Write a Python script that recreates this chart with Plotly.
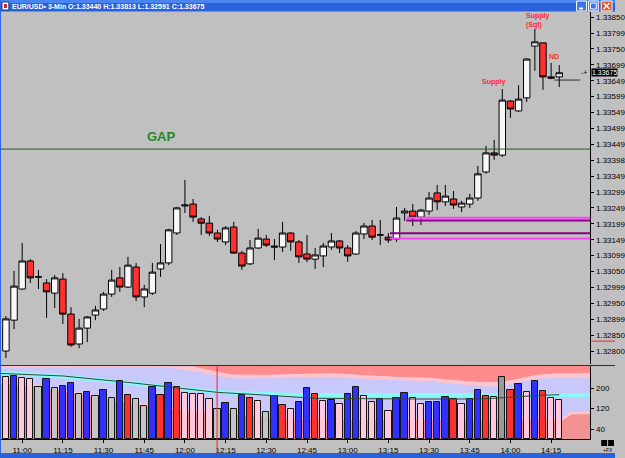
import plotly.graph_objects as go

W, H = 625, 458

# ---------------- data ----------------
bar_index = list(range(69))  # 3-min bars from 10:54 to 14:18

opens = [1.32800, 1.32897, 1.32995, 1.33083, 1.33033, 1.33014, 1.32982, 1.33026, 1.32916, 1.32822,
         1.32872, 1.32913, 1.32932, 1.32979, 1.33030, 1.33001, 1.33064, 1.32970, 1.32982, 1.33058,
         1.33077, 1.33171, 1.33256, 1.33262, 1.33215, 1.33202, 1.33171, 1.33143, 1.33190, 1.33108,
         1.33074, 1.33124, 1.33152, 1.33130, 1.33127, 1.33171, 1.33143, 1.33105, 1.33089, 1.33099,
         1.33127, 1.33146, 1.33124, 1.33105, 1.33168, 1.33193, 1.33165, 1.33158, 1.33152, 1.33234,
         1.33240, 1.33221, 1.33240, 1.33297, 1.33269, 1.33278, 1.33253, 1.33262, 1.33281, 1.33363,
         1.33423, 1.33416, 1.33586, 1.33555, 1.33596, 1.33759, 1.33769, 1.33662, 1.33662]
highs = [1.32910, 1.33052, 1.33140, 1.33089, 1.33055, 1.33026, 1.33039, 1.33045, 1.32938, 1.32901,
         1.32910, 1.32942, 1.32986, 1.33055, 1.33064, 1.33096, 1.33077, 1.33008, 1.33077, 1.33136,
         1.33184, 1.33253, 1.33338, 1.33278, 1.33221, 1.33225, 1.33181, 1.33193, 1.33206, 1.33115,
         1.33149, 1.33184, 1.33165, 1.33152, 1.33206, 1.33174, 1.33149, 1.33165, 1.33124, 1.33140,
         1.33171, 1.33149, 1.33133, 1.33177, 1.33203, 1.33212, 1.33212, 1.33171, 1.33253, 1.33250,
         1.33262, 1.33247, 1.33300, 1.33322, 1.33322, 1.33303, 1.33272, 1.33294, 1.33382, 1.33445,
         1.33464, 1.33624, 1.33589, 1.33636, 1.33721, 1.33813, 1.33769, 1.33706, 1.33699]
lows = [1.32778, 1.32869, 1.32992, 1.33014, 1.32995, 1.32904, 1.32935, 1.32885, 1.32813, 1.32809,
        1.32828, 1.32897, 1.32926, 1.32970, 1.32986, 1.32998, 1.32957, 1.32938, 1.32976, 1.33033,
        1.33070, 1.33165, 1.33234, 1.33206, 1.33165, 1.33162, 1.33143, 1.33133, 1.33105, 1.33055,
        1.33070, 1.33121, 1.33127, 1.33086, 1.33111, 1.33115, 1.33077, 1.33080, 1.33058, 1.33064,
        1.33118, 1.33108, 1.33080, 1.33102, 1.33152, 1.33149, 1.33133, 1.33140, 1.33143, 1.33209,
        1.33193, 1.33196, 1.33228, 1.33243, 1.33256, 1.33247, 1.33237, 1.33250, 1.33272, 1.33357,
        1.33401, 1.33410, 1.33533, 1.33552, 1.33583, 1.33681, 1.33621, 1.33655, 1.33630]
closes = [1.32901, 1.33004, 1.33083, 1.33030, 1.33033, 1.32986, 1.33030, 1.32916, 1.32819, 1.32872,
          1.32907, 1.32929, 1.32979, 1.33023, 1.33001, 1.33070, 1.32970, 1.32995, 1.33048, 1.33077,
          1.33181, 1.33250, 1.33259, 1.33221, 1.33202, 1.33171, 1.33152, 1.33187, 1.33108, 1.33067,
          1.33124, 1.33155, 1.33133, 1.33127, 1.33171, 1.33143, 1.33096, 1.33089, 1.33102, 1.33130,
          1.33146, 1.33124, 1.33099, 1.33171, 1.33193, 1.33158, 1.33165, 1.33149, 1.33218, 1.33240,
          1.33221, 1.33243, 1.33281, 1.33269, 1.33287, 1.33259, 1.33265, 1.33281, 1.33357, 1.33423,
          1.33416, 1.33589, 1.33561, 1.33592, 1.33718, 1.33772, 1.33662, 1.33658, 1.33675]

volumes = [242, 247, 238, 234, 205, 235, 200, 208, 218, 177,
           183, 168, 193, 162, 226, 173, 158, 130, 205, 173,
           218, 203, 179, 178, 177, 156, 117, 142, 118, 174,
           160, 148, 105, 170, 134, 118, 145, 199, 175, 148,
           155, 138, 175, 204, 168, 144, 157, 109, 160, 179,
           160, 139, 144, 147, 166, 157, 138, 156, 191, 168,
           164, 242, 193, 214, 186, 226, 190, 162, 152]
vol_class = ["P", "B", "P", "P", "G", "B", "G", "B", "B", "G",
             "B", "G", "B", "G", "B", "R", "G", "G", "B", "R",
             "B", "R", "P", "P", "P", "P", "G", "B", "G", "B",
             "R", "P", "G", "B", "R", "P", "B", "B", "R", "P",
             "B", "P", "B", "B", "P", "P", "B", "P", "B", "B",
             "P", "P", "B", "B", "B", "R", "P", "B", "B", "R",
             "P", "D", "R", "B", "P", "B", "R", "P", "P"]

price_tick_vals = [1.3280, 1.3285, 1.3290, 1.3295, 1.3300, 1.3305, 1.3310, 1.3315, 1.3320, 1.3325, 1.3330,
                   1.3335, 1.3340, 1.3345, 1.3350, 1.3355, 1.3360, 1.3365, 1.3370, 1.3375, 1.3380, 1.3385]
price_tick_text = ["1.32800", "1.32850", "1.32899", "1.32950", "1.32999", "1.33050", "1.33099", "1.33149",
                   "1.33199", "1.33249", "1.33299", "1.33349", "1.33398", "1.33449", "1.33499", "1.33549",
                   "1.33599", "1.33649", "1.33699", "1.33750", "1.33799", "1.33850"]
time_tick_idx = [2, 7, 12, 17, 22, 27, 32, 37, 42, 47, 52, 57, 62, 67]
time_tick_text = ["11:00", "11:15", "11:30", "11:45", "12:00", "12:15", "12:30", "12:45",
                  "13:00", "13:15", "13:30", "13:45", "14:00", "14:15"]
vol_tick_vals = [40, 120, 200]

title_text = "EUR/USD\u2022 3-Min O:1.33440 H:1.33813 L:1.32591 C:1.33675"
last_close = 1.33675
gap_level = 1.33435
zone_upper_levels = [1.33219, 1.33210]
zone_lower_levels = [1.33170, 1.33154]
bid_level = 1.33652
axis_marker_level = 1.32831

# volume envelope bands
band_x = [-0.8, 4, 9, 14, 19, 21, 23, 25, 26, 28, 32, 36, 40, 44, 48, 52, 56, 59, 61, 63, 65, 68, 69.5, 72]
band_red_edge = [286, 286, 286, 286, 286, 286, 284, 270, 262, 252, 251, 255, 258, 250, 243, 240, 228, 222, 224, 236, 250, 258, 259, 259]
band_pink_edge = [280, 281, 281, 281, 280, 276, 266, 256, 248, 238, 238, 242, 244, 236, 230, 226, 214, 206, 208, 222, 236, 240, 240, 240]
low_x = [-0.8, 4, 9, 14, 19, 23, 26, 30, 36, 44, 52, 60, 68.4, 69.5, 72]
low_edge = [223, 208, 180, 150, 125, 112, 112, 95, 80, 79, 79, 79, 79, 103, 103]
cyan_x = [-0.8, 5, 11, 16, 20, 24, 28, 32, 36, 72]
cyan_band = [259, 250, 233, 216, 202, 190, 181, 176, 173, 173]
ma_x = [-0.8, 7, 15, 19.5, 26, 31.5, 38, 50, 58, 60, 63, 66, 68]
ma_line = [257, 247, 222, 205, 183, 173, 160, 157, 157, 160, 167, 172, 174]

# ---------------- geometry (calibration) ----------------
def py(y):
    return 1 - y / H

def px(x):
    return x / W

BAR_X0, BAR_DX = 6.0, 8.27
x_lo, x_hi = (0 - BAR_X0) / BAR_DX, (600 - BAR_X0) / BAR_DX
P_REF_Y, P_REF, P_SCALE = 351.0, 1.328, 31800.0
p_top = P_REF + (P_REF_Y - 12) / P_SCALE
p_bot = P_REF + (P_REF_Y - 364) / P_SCALE
V_ZERO_Y, V_SCALE = 439.3, 3.9
v_top = (V_ZERO_Y - 366) * V_SCALE

color_map = {"B": "#3030ff", "R": "#ff3030", "P": "#ffc8dc", "G": "#c4c4c4", "D": "#9a9a9a"}

FONT = "Liberation Sans Narrow, Liberation Sans, Arial"

fig = go.Figure()

# volume bands (base subplot x2/y2, below the bars)
fig.add_trace(go.Scatter(x=band_x, y=[v_top] * len(band_x), mode="lines", line=dict(width=0),
                         xaxis="x2", yaxis="y2", hoverinfo="skip"))
fig.add_trace(go.Scatter(x=band_x, y=band_red_edge, mode="lines", line=dict(width=0),
                         fill="tonexty", fillcolor="#ff8c8c", xaxis="x2", yaxis="y2", hoverinfo="skip"))
fig.add_trace(go.Scatter(x=band_x, y=band_pink_edge, mode="lines", line=dict(width=0),
                         fill="tonexty", fillcolor="#ffc4cc", xaxis="x2", yaxis="y2", hoverinfo="skip"))
fig.add_trace(go.Scatter(x=low_x, y=low_edge, mode="lines", line=dict(width=0),
                         fill="tozeroy", fillcolor="#f29292", xaxis="x2", yaxis="y2", hoverinfo="skip"))
fig.add_trace(go.Scatter(x=low_x, y=low_edge, mode="lines", line=dict(width=2.5, color="#ffc4cc"),
                         xaxis="x2", yaxis="y2", hoverinfo="skip"))
fig.add_trace(go.Scatter(x=cyan_x, y=cyan_band, mode="lines", line=dict(width=4, color="#8af8f8"),
                         xaxis="x2", yaxis="y2", hoverinfo="skip"))

# volume bars (overlay subplot so they sit above the band fills)
fig.add_trace(go.Bar(x=bar_index, y=volumes, width=0.78,
                     marker=dict(color=[color_map[c] for c in vol_class],
                                 line=dict(color="#151515", width=1)),
                     xaxis="x2", yaxis="y3", hoverinfo="skip"))
fig.add_trace(go.Scatter(x=ma_x, y=ma_line, mode="lines", line=dict(width=1, color="#2e4a3a"),
                         xaxis="x2", yaxis="y3", hoverinfo="skip"))

# candles
fig.add_trace(go.Candlestick(x=bar_index, open=opens, high=highs, low=lows, close=closes,
                             increasing=dict(line=dict(color="#000000", width=1), fillcolor="#f8f8f8"),
                             decreasing=dict(line=dict(color="#000000", width=1), fillcolor="#ff3030"),
                             whiskerwidth=0, xaxis="x", yaxis="y", hoverinfo="skip"))

shapes = []
# volume panel background
shapes.append(dict(type="rect", xref="x2 domain", yref="y2 domain", x0=0, x1=1, y0=0, y1=1,
                   fillcolor="#c8c8fa", line=dict(width=0), layer="below"))
# gap line
shapes.append(dict(type="line", xref="x", yref="y", x0=x_lo, x1=x_hi, y0=gap_level, y1=gap_level,
                   line=dict(color="#1f5f1f", width=1)))
# supply/demand zone lines
zone_colors = ["#ff40ff", "#880088"]
for lvl, col in zip(zone_upper_levels, zone_colors):
    shapes.append(dict(type="line", xref="x", yref="y", x0=49.2, x1=x_hi, y0=lvl, y1=lvl,
                       line=dict(color=col, width=2)))
for lvl, col in zip(zone_lower_levels, zone_colors[::-1]):
    shapes.append(dict(type="line", xref="x", yref="y", x0=47.2, x1=x_hi, y0=lvl, y1=lvl,
                       line=dict(color=col, width=2)))
# short bid line
shapes.append(dict(type="line", xref="x", yref="y", x0=67.4, x1=70.6, y0=bid_level, y1=bid_level,
                   line=dict(color="#303030", width=1)))
# red marker line in axis area
shapes.append(dict(type="line", xref="paper", yref="y", x0=px(600), x1=1, y0=axis_marker_level,
                   y1=axis_marker_level, line=dict(color="#ff2020", width=1)))
# vertical red line in volume panel
shapes.append(dict(type="line", xref="x2", yref="paper", x0=25.95, x1=25.95, y0=py(452), y1=py(366),
                   line=dict(color="#ff2020", width=1)))
# panel separator
shapes.append(dict(type="line", xref="paper", yref="paper", x0=0, x1=1, y0=py(365.5), y1=py(365.5),
                   line=dict(color="#303030", width=1)))
# title bar
shapes.append(dict(type="rect", xref="paper", yref="paper", x0=0, x1=1, y0=py(11.5), y1=1,
                   fillcolor="#2a62dc", line=dict(width=0)))
shapes.append(dict(type="rect", xref="paper", yref="paper", x0=0, x1=1, y0=py(3), y1=1,
                   fillcolor="#4a84f0", line=dict(width=0)))
# icon
shapes.append(dict(type="rect", xref="paper", yref="paper", x0=px(2), x1=px(9), y0=py(10), y1=py(2),
                   fillcolor="#ffffff", line=dict(color="#1a3a8a", width=1)))
shapes.append(dict(type="rect", xref="paper", yref="paper", x0=px(4), x1=px(7), y0=py(8), y1=py(4),
                   fillcolor="#d02020", line=dict(width=0)))
# window buttons
for bx0, bx1, col in [(586, 596, "#3d74ea"), (598, 608, "#3d74ea"), (611, 622, "#e0542c")]:
    shapes.append(dict(type="rect", xref="paper", yref="paper", x0=px(bx0), x1=px(bx1), y0=py(11), y1=py(1),
                       fillcolor=col, line=dict(color="#ffffff", width=1)))
shapes.append(dict(type="line", xref="paper", yref="paper", x0=px(588.5), x1=px(592.5), y0=py(8.5), y1=py(8.5),
                   line=dict(color="#ffffff", width=2)))
shapes.append(dict(type="rect", xref="paper", yref="paper", x0=px(600), x1=px(606), y0=py(9), y1=py(3),
                   line=dict(color="#ffffff", width=1)))
shapes.append(dict(type="line", xref="paper", yref="paper", x0=px(613.5), x1=px(619.5), y0=py(9), y1=py(3),
                   line=dict(color="#ffffff", width=1.5)))
shapes.append(dict(type="line", xref="paper", yref="paper", x0=px(613.5), x1=px(619.5), y0=py(3), y1=py(9),
                   line=dict(color="#ffffff", width=1.5)))
# window borders
shapes.append(dict(type="rect", xref="paper", yref="paper", x0=0, x1=1, y0=0, y1=py(453),
                   fillcolor="#2a62dc", line=dict(width=0)))
shapes.append(dict(type="rect", xref="paper", yref="paper", x0=0, x1=px(1), y0=0, y1=1,
                   fillcolor="#2a62dc", line=dict(width=0)))
# small boxes bottom-right
for bx0 in (611, 618):
    shapes.append(dict(type="rect", xref="paper", yref="paper", x0=px(bx0), x1=px(bx0 + 6), y0=py(446),
                       y1=py(440), fillcolor="#000000", line=dict(width=0)))

annotations = [
    dict(text="<b>" + title_text + "</b>", xref="paper", yref="paper", x=px(10), y=py(6),
         xanchor="left", yanchor="middle", showarrow=False,
         font=dict(family="Liberation Sans, Arial", size=7, color="#ffffff")),
    dict(text="<b>GAP</b>", xref="x", yref="y", x=(164 - BAR_X0) / BAR_DX, y=1.33473,
         showarrow=False, font=dict(family="Liberation Sans, Arial", size=13, color="#1e8c1e")),
    dict(text="<b>Supply</b>", xref="x", yref="y", x=59.9, y=1.33646, showarrow=False,
         font=dict(family="Liberation Sans, Arial", size=7, color="#ff2a2a")),
    dict(text="<b>Supply<br>(Sqt)</b>", xref="x", yref="y", x=63.7, y=1.33840, xanchor="left",
         align="left", showarrow=False,
         font=dict(family="Liberation Sans, Arial", size=7, color="#ff2a2a")),
    dict(text="<b>ND</b>", xref="x", yref="y", x=67.4, y=1.33725, showarrow=False,
         font=dict(family="Liberation Sans, Arial", size=7, color="#ff2a2a")),
    dict(text=f"{last_close:.5f}", xref="paper", yref="y", x=px(601), y=last_close, xanchor="left",
         yanchor="middle", showarrow=False, bgcolor="#000000", borderpad=0,
         font=dict(family=FONT, size=7, color="#ffffff")),
    dict(text="-+", xref="paper", yref="y", x=px(599), y=last_close, xanchor="right",
         yanchor="middle", showarrow=False, font=dict(family=FONT, size=7, color="#000000")),
    dict(text="+FX", xref="paper", yref="paper", x=px(625), y=py(450), xanchor="right",
         yanchor="middle", showarrow=False, font=dict(family=FONT, size=5, color="#000000")),
]

axis_font = dict(family=FONT, size=8, color="#000000")
fig.update_layout(
    width=W, height=H, margin=dict(l=0, r=0, t=0, b=0),
    paper_bgcolor="#c0c0c0", plot_bgcolor="#c0c0c0",
    showlegend=False, hovermode=False, bargap=0,
    boxgap=0.12, boxgroupgap=0.1,
    xaxis=dict(domain=[0, px(600)], range=[x_lo, x_hi], anchor="y", showticklabels=False,
               showgrid=False, zeroline=False, ticks="", rangeslider=dict(visible=False)),
    yaxis=dict(domain=[py(364), py(12)], range=[p_bot, p_top], anchor="x", side="right",
               tickvals=price_tick_vals, ticktext=price_tick_text, ticks="outside", ticklen=3,
               tickcolor="#000000", showline=True, linecolor="#000000", linewidth=1,
               showgrid=False, zeroline=False, tickfont=axis_font),
    xaxis2=dict(domain=[0, px(600)], range=[x_lo, x_hi], anchor="y2", tickvals=time_tick_idx,
                ticktext=time_tick_text, ticks="outside", ticklen=3, tickcolor="#000000",
                showline=True, linecolor="#000000", linewidth=1, showgrid=False, zeroline=False,
                tickfont=axis_font),
    yaxis2=dict(domain=[py(V_ZERO_Y), py(366)], range=[0, v_top], anchor="x2", side="right",
                tickvals=vol_tick_vals, ticks="outside", ticklen=3, tickcolor="#000000",
                showline=True, linecolor="#000000", linewidth=1, showgrid=False, zeroline=False,
                tickfont=axis_font),
    yaxis3=dict(overlaying="y2", range=[0, v_top], anchor="x2", side="right", visible=False,
                showgrid=False, zeroline=False),
    shapes=shapes, annotations=annotations,
)

fig.write_html("out.html")
